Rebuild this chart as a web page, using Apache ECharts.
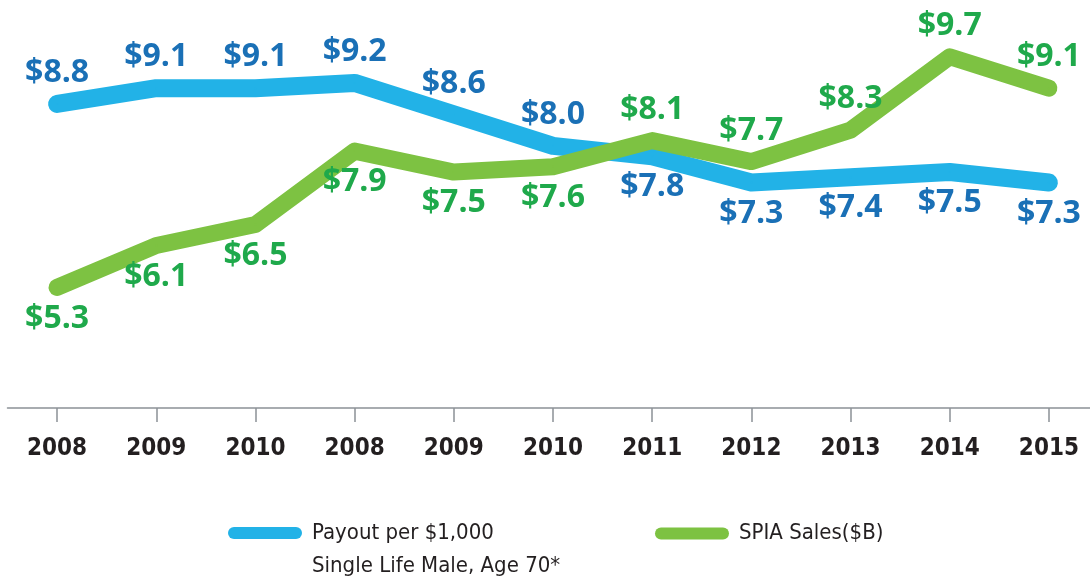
<!DOCTYPE html>
<html>
<head>
<meta charset="utf-8">
<script src="https://cdn.jsdelivr.net/npm/echarts@6/dist/echarts.min.js"></script>
<style>
  html, body { margin: 0; padding: 0; background: #fff; }
  #chart { width: 1090px; height: 588px; }
</style>
</head>
<body>
<div id="chart"></div>
<script>
// categories (the source repeats 2008-2010)
var years = ['2008', '2009', '2010', '2008', '2009', '2010', '2011', '2012', '2013', '2014', '2015'];
var payout = [8.8, 9.1, 9.1, 9.2, 8.6, 8.0, 7.8, 7.3, 7.4, 7.5, 7.3];
var spiaSales = [5.3, 6.1, 6.5, 7.9, 7.5, 7.6, 8.1, 7.7, 8.3, 9.7, 9.1];

var payoutName = 'Payout per $1,000\nSingle Life Male, Age 70*';
var salesName = 'SPIA Sales($B)';

var narrow = "'Liberation Sans Narrow', 'DejaVu Sans Condensed', 'Noto Sans', sans-serif";
var bold = "'Open Sans', 'Roboto', sans-serif";
var pill = 'path://M6,0H68A6,6,0,0,1,68,12H6A6,6,0,0,1,6,0Z';

// label goes above for the higher line, below for the lower one
function withLabels(values, other) {
  return values.map(function (v, i) {
    return { value: v, label: { position: v >= other[i] ? 'top' : 'bottom' } };
  });
}

function legendFor(name, top, left) {
  return {
    data: [name],
    left: left,
    top: top,
    padding: 0,
    itemWidth: 74,
    itemHeight: 12,
    icon: pill,
    selectedMode: false,
    // empty first line keeps the first text line level with the icon
    formatter: function (n) { return n.indexOf('\n') >= 0 ? '\n' + n : n; },
    textStyle: {
      fontFamily: narrow,
      fontSize: 22,
      color: '#231f20',
      lineHeight: 33,
      padding: [0, 0, 0, 5]
    }
  };
}

var chart = echarts.init(document.getElementById('chart'));
chart.setOption({
  animation: false,
  backgroundColor: '#fff',
  grid: { left: 7.5, right: -8.5, top: 41, bottom: 180, outerBoundsMode: 'none' },
  legend: [
    legendFor(payoutName, 483.5, 228),
    legendFor(salesName, 517, 655)
  ],
  xAxis: {
    type: 'category',
    data: years,
    boundaryGap: true,
    axisLine: { show: true, lineStyle: { color: '#8c9196', width: 1.5 } },
    axisTick: { show: true, alignWithLabel: true, length: 14, lineStyle: { color: '#8c9196', width: 1.5 } },
    axisLabel: {
      margin: 29,
      fontFamily: narrow,
      fontWeight: 'bold',
      fontSize: 24,
      color: '#231f20',
      interval: 0
    }
  },
  yAxis: { type: 'value', min: 3, max: 10, show: false },
  series: [
    {
      name: payoutName,
      type: 'line',
      data: withLabels(payout, spiaSales),
      color: '#22b2e7',
      symbol: 'circle',
      symbolSize: 2,
      lineStyle: { width: 18, color: '#22b2e7', cap: 'round', join: 'round' },
      label: {
        show: true,
        distance: 14,
        formatter: function (p) { return '$' + p.value.toFixed(1); },
        fontFamily: bold,
        fontWeight: 'bold',
        fontSize: 32,
        color: '#1a70b6'
      },
      emphasis: { disabled: true },
      z: 2
    },
    {
      name: salesName,
      type: 'line',
      data: withLabels(spiaSales, payout),
      color: '#7dc242',
      symbol: 'circle',
      symbolSize: 2,
      lineStyle: { width: 17, color: '#7dc242', cap: 'round', join: 'round' },
      label: {
        show: true,
        distance: 14,
        formatter: function (p) { return '$' + p.value.toFixed(1); },
        fontFamily: bold,
        fontWeight: 'bold',
        fontSize: 32,
        color: '#1fa94b'
      },
      emphasis: { disabled: true },
      z: 3
    }
  ]
});
</script>
</body>
</html>
